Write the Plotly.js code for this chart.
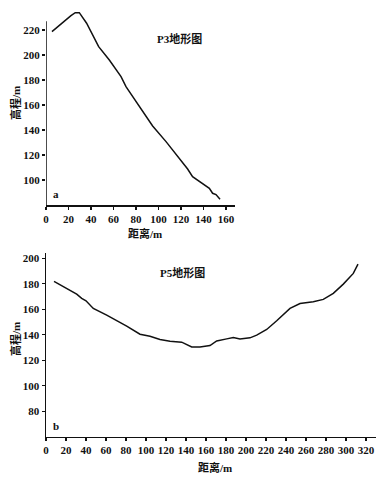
<!DOCTYPE html>
<html><head><meta charset="utf-8">
<script src="https://cdn.plot.ly/plotly-3.0.1.min.js"></script>
<style>html,body{margin:0;padding:0;background:#fff}#c{width:388px;height:479px}</style>
</head><body><div id="c"></div>
<script>
// P3 profile
const p3Dist = [5.3, 14.8, 22.2, 26.0, 29.6, 36.1, 41.4, 46.8, 56.3, 66.7, 71.1, 82.9, 94.8, 106.7, 118.5, 125.9, 130.3, 139.2, 145.2, 148.1, 151.1, 154.7];
const p3Elev = [218.7, 226.2, 231.5, 233.9, 233.9, 225.4, 216.0, 206.7, 196.0, 182.7, 174.7, 158.7, 143.2, 130.7, 117.4, 108.8, 102.7, 97.4, 93.4, 89.4, 88.4, 84.6];
// P5 profile
const p5Dist = [8, 20.7, 30.7, 35.7, 40, 47.3, 60.7, 80.7, 94, 104, 114, 124, 135.7, 145.7, 154, 164, 170.7, 180.7, 187.3, 194, 204, 210.7, 220.7, 230.7, 244, 254, 267.3, 277.3, 287.3, 297.3, 307.3, 312];
const p5Elev = [181.9, 176.4, 171.9, 168.6, 166.7, 160.7, 155.4, 146.8, 140.5, 138.9, 136.3, 135.0, 134.2, 130.5, 130.5, 131.6, 135.2, 136.8, 137.9, 136.8, 137.6, 139.7, 144.2, 151.0, 160.7, 164.6, 165.9, 167.8, 172.5, 179.8, 188.2, 195.5];
const xTicksTop = [0, 20, 40, 60, 80, 100, 120, 140, 160];
const yTicksTop = [100, 120, 140, 160, 180, 200, 220];
const xTicksBot = [0, 20, 40, 60, 80, 100, 120, 140, 160, 180, 200, 220, 240, 260, 280, 300, 320];
const yTicksBot = [80, 100, 120, 140, 160, 180, 200];

const serif = 'Liberation Serif, Noto Sans CJK SC, serif';
const tf = {family: serif, size: 11, color: '#111', weight: 'bold'};
const W = 330, H = 479, L = 46;
const px = v => (v - L) / W;
const py = v => 1 - v / H;

const axBase = {
  showgrid: false, zeroline: false, ticks: 'outside', ticklen: 3, tickwidth: 1.2,
  tickcolor: '#111', linecolor: '#111', linewidth: 1.5, tickfont: tf, tickmode: 'array'
};

const traces = [
  {x: p3Dist, y: p3Elev, xaxis: 'x', yaxis: 'y', mode: 'lines', line: {color: '#111', width: 1.5}},
  {x: p5Dist, y: p5Elev, xaxis: 'x2', yaxis: 'y2', mode: 'lines', line: {color: '#111', width: 1.5}}
];

const f11 = {family: serif, size: 11, color: '#111', weight: 'bold'};
const ann = (t, x, y, extra) => Object.assign({text: t, xref: 'paper', yref: 'paper', x: x, y: y,
  showarrow: false, xanchor: 'center', yanchor: 'middle', font: f11}, extra || {});

const layout = {
  width: 388, height: 479, showlegend: false,
  margin: {l: 46, r: 12, t: 0, b: 0},
  paper_bgcolor: '#fff', plot_bgcolor: '#fff',
  xaxis: Object.assign({}, axBase, {domain: [0, 0.5727], range: [0, 168], tickvals: xTicksTop, showline: true, anchor: 'y'}),
  yaxis: Object.assign({}, axBase, {domain: [0.572, 0.9765], range: [80, 235], tickvals: yTicksTop, showline: false, anchor: 'x'}),
  xaxis2: Object.assign({}, axBase, {domain: [0, 1], range: [0, 330], tickvals: xTicksBot, showline: true, anchor: 'y2'}),
  yaxis2: Object.assign({}, axBase, {domain: [0.0883, 0.4712], range: [60, 204], tickvals: yTicksBot, showline: true, anchor: 'x2'}),
  shapes: [
    {type: 'line', xref: 'x', yref: 'y', x0: 0, x1: 0, y0: 80, y1: 227, line: {color: '#111', width: 1.5}}
  ],
  annotations: [
    ann('距离/m', px(145), py(233)),
    ann('高程/m', px(15), py(103), {textangle: -90}),
    ann('距离/m', px(215), py(467)),
    ann('高程/m', px(15), py(339), {textangle: -90}),
    ann('P3地形图', px(179), py(38)),
    ann('P5地形图', px(182), py(272)),
    ann('a', px(56), py(194)),
    ann('b', px(56), py(426))
  ]
};
Plotly.newPlot('c', traces, layout, {staticPlot: true, displayModeBar: false});
</script></body></html>
